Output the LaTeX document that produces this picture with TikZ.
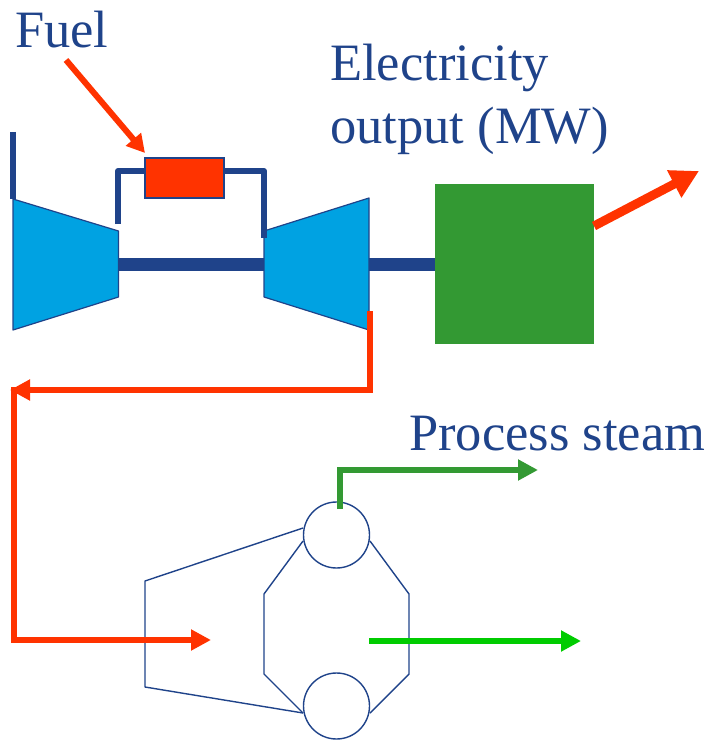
\documentclass[tikz,border=0pt]{standalone}
\usepackage{fontspec}
\setmainfont{Liberation Serif}
\usetikzlibrary{arrows.meta}
\definecolor{navy}{HTML}{1F438A}
\definecolor{cyanf}{HTML}{00A2E2}
\definecolor{redo}{HTML}{FF3300}
\definecolor{greenb}{HTML}{339933}
\definecolor{greenl}{HTML}{00CC00}
\tikzset{
  x=1pt,y=-1pt,
  lbl/.style={text=navy,font=\fontsize{52.5}{62}\selectfont,inner sep=0pt,anchor=base west,align=left},
  turbine/.style={draw=navy,line width=1.2pt,fill=cyanf,line join=round},
  duct/.style={draw=navy,line width=6pt},
  shaft/.style={draw=navy,line width=13pt},
  thin/.style={draw=navy,line width=1.4pt,line join=round},
  drum/.style={circle,draw=navy,line width=1.4pt,minimum size=66pt,inner sep=0pt,fill=none},
  redflow/.style={draw=redo,line width=6pt,-{Triangle[length=20pt,width=20pt]}},
  redbig/.style={draw=redo,line width=9pt,-{Triangle[length=28pt,width=29pt]}},
  gflow/.style={draw=greenb,line width=6pt,-{Triangle[length=20pt,width=20pt]}},
  lflow/.style={draw=greenl,line width=6pt,-{Triangle[length=20pt,width=20pt]}},
}
\begin{document}
\begin{tikzpicture}
\useasboundingbox (0,0) rectangle (711,741);
% coordinates
\coordinate (stubT) at (13,132); \coordinate (stubB) at (13,199);
\coordinate (compL) at (118,224); \coordinate (ductR) at (264,238);
\coordinate (shaftA) at (118,264); \coordinate (shaftB) at (264,264);
\coordinate (shaftC) at (369,264);
\coordinate (fuelS) at (66,60); \coordinate (fuelE) at (145,153);
\coordinate (exOut) at (699,171); \coordinate (exIn) at (594,226);
\coordinate (tEx) at (370,311); \coordinate (c1) at (370,390); \coordinate (c2) at (10,390);
\coordinate (d1) at (14,387); \coordinate (d2) at (14,640); \coordinate (d3) at (211,640);
\coordinate (stS) at (340,509); \coordinate (stC) at (340,470); \coordinate (stE) at (538,470);
\coordinate (wS) at (369,641); \coordinate (wE) at (581,641);
\coordinate (h0) at (303,528); \coordinate (h1) at (145,581); \coordinate (h2) at (145,687); \coordinate (h3) at (303,713);
\coordinate (i0) at (303,541); \coordinate (i1) at (264,594); \coordinate (i2) at (264,674);
\coordinate (j0) at (370,541); \coordinate (j1) at (409,594); \coordinate (j2) at (409,674); \coordinate (j3) at (370,713);
% texts
\node[lbl] (fuel) at (15,48) {Fuel};
\node[lbl] (elec1) at (330,81) {Electricity};
\node[lbl] (elec2) at (330,143) {output (MW)};
\node[lbl] (steam) at (409,450) {Process steam};
% shafts
\draw[shaft] (shaftA) -- (shaftB);
\draw[shaft] (shaftC) -- (440,264);
% compressor and turbine
\draw[turbine] (13,199) -- (118.5,231) -- (118.5,297) -- (13,330) -- cycle;
\draw[turbine] (264,231) -- (369,198) -- (369,330) -- (264,297) -- cycle;
% generator and combustor
\node[fill=greenb,minimum width=159pt,minimum height=160pt,inner sep=0pt] (gen) at (514.5,264) {};
\node[fill=redo,draw=navy,line width=1.2pt,minimum width=79pt,minimum height=40pt,inner sep=0pt] (comb) at (184.5,178) {};
% ducts
\draw[duct] (stubT) -- (stubB);
\coordinate (cwest) at (comb.west |- 0,171);
\coordinate (ceast) at (comb.east |- 0,171);
\draw[duct,line join=round] (compL) |- (cwest);
\draw[duct,line join=round] (ceast) -| (ductR);
% boiler
\node[drum] (top) at (336.5,535) {};
\node[drum] (bot) at (336.5,706) {};
\draw[thin] (h0) -- (h1) -- (h2) -- (h3);
\draw[thin] (i0) -- (i1) -- (i2) -- (h3);
\draw[thin] (j0) -- (j1) -- (j2) -- (j3);
% flows
\draw[redflow,-{Triangle[length=18pt,width=19pt]}] (fuelS) -- (fuelE);
\draw[redbig] (exIn) -- (exOut);
\draw[redflow] (tEx) -- (c1) -- (c2);
\draw[redflow] (d1) -- (d2) -- (d3);
\draw[gflow] (stS) -- (stC) -- (stE);
\draw[lflow] (wS) -- (wE);
\end{tikzpicture}
\end{document}
